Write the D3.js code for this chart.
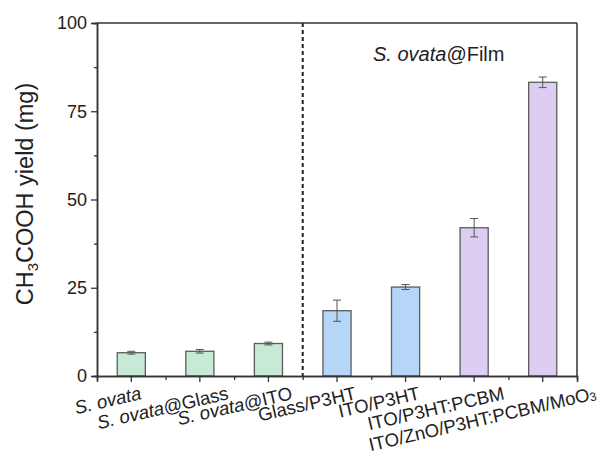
<!DOCTYPE html>
<html>
<head>
<meta charset="utf-8">
<script src="https://cdn.jsdelivr.net/npm/d3@7"></script>
<style>
  body { margin: 0; background: #fff; }
  svg { font-family: "Liberation Sans", Arial, sans-serif; }
</style>
</head>
<body>
<div id="chart"></div>
<script>
// values
const categories = ['S. ovata', 'S. ovata@Glass', 'S. ovata@ITO', 'Glass/P3HT', 'ITO/P3HT', 'ITO/P3HT:PCBM', 'ITO/ZnO/P3HT:PCBM/MoO3'];
const yields = [6.6, 7.0, 9.2, 18.5, 25.2, 42.0, 83.2];
const errors = [0.4, 0.5, 0.4, 3.0, 0.7, 2.6, 1.5];
const groups = ['plain', 'plain', 'plain', 'blue', 'blue', 'film', 'film'];
const yTicks = [0, 25, 50, 75, 100];
const yMinor = [12.5, 37.5, 62.5, 87.5];

const colors = {plain: '#c6ead5', blue: '#b5d6f7', film: '#ddcdf2'};

const width = 607, height = 456;
const margin = {top: 23, right: 30, bottom: 80, left: 97};
const x0 = margin.left, x1 = width - margin.right;
const y0 = height - margin.bottom, y1 = margin.top;

const svg = d3.select('#chart').append('svg')
	.attr('width', width)
	.attr('height', height);

const xScale = d3.scaleBand()
	.domain(categories)
	.range([x0, x1])
	.paddingInner(0.59)
	.paddingOuter(0.295);

const xEdge = d3.scaleLinear()
	.domain([0, categories.length])
	.range([x0, x1]);

const yScale = d3.scaleLinear()
	.domain([0, 100])
	.range([y0, y1]);

const cx = c => xScale(c) + xScale.bandwidth() / 2;

// bars
svg.selectAll('rect.bar')
	.data(categories)
	.enter().append('rect')
	.attr('class', 'bar')
	.attr('x', c => xScale(c))
	.attr('width', xScale.bandwidth())
	.attr('y', (c, i) => yScale(yields[i]))
	.attr('height', (c, i) => yScale(0) - yScale(yields[i]))
	.style('fill', (c, i) => colors[groups[i]])
	.style('stroke', '#5c5c5c')
	.style('stroke-width', 1.3);

// error bars
const err = svg.selectAll('g.err')
	.data(categories)
	.enter().append('g')
	.attr('class', 'err')
	.style('stroke', '#555')
	.style('stroke-width', 1);
err.append('line')
	.attr('x1', c => cx(c)).attr('x2', c => cx(c))
	.attr('y1', (c, i) => yScale(yields[i] + errors[i]))
	.attr('y2', (c, i) => yScale(yields[i] - errors[i]));
[1, -1].forEach(s => {
	err.append('line')
		.attr('x1', c => cx(c) - 4).attr('x2', c => cx(c) + 4)
		.attr('y1', (c, i) => yScale(yields[i] + s * errors[i]))
		.attr('y2', (c, i) => yScale(yields[i] + s * errors[i]));
});

// dashed separator
svg.append('line')
	.attr('x1', xEdge(3)).attr('x2', xEdge(3))
	.attr('y1', y1).attr('y2', y0)
	.style('stroke', '#222')
	.style('stroke-width', 2)
	.style('stroke-dasharray', '4,3');

// frame
svg.append('line').attr('x1', x0).attr('x2', x1).attr('y1', y1).attr('y2', y1)
	.style('stroke', '#333').style('stroke-width', 1.5);
svg.append('line').attr('x1', x1).attr('x2', x1).attr('y1', y1).attr('y2', y0)
	.style('stroke', '#333').style('stroke-width', 1.5);

// y axis
const yAxis = svg.append('g')
	.attr('transform', `translate(${x0},0)`)
	.call(d3.axisLeft(yScale).tickValues(yTicks).tickSize(6).tickPadding(4));
svg.append('g')
	.attr('transform', `translate(${x0},0)`)
	.call(d3.axisLeft(yScale).tickValues(yMinor).tickSize(3).tickFormat(''));

// x axis
svg.append('g')
	.attr('transform', `translate(0,${y0})`)
	.call(d3.axisBottom(xEdge).tickValues(d3.range(1, categories.length)).tickSize(4).tickFormat(''));
svg.append('g')
	.attr('transform', `translate(0,${y0})`)
	.call(d3.axisBottom(xScale).tickSize(6).tickFormat(''));

svg.selectAll('.domain').style('stroke', '#333').style('stroke-width', 1.5);
svg.selectAll('.tick line').style('stroke', '#333').style('stroke-width', 1.3);
yAxis.selectAll('text')
	.style('font-size', '18px')
	.style('fill', '#222')
	.style('font-family', '"Liberation Sans", Arial, sans-serif');

// rotated category labels
const addLabel = (sel, name) => {
	let rest = name;
	if (name.startsWith('S. ovata')) {
		sel.append('tspan').style('font-style', 'italic').text('S. ovata');
		rest = name.slice(8);
	}
	if (rest.endsWith('MoO3')) {
		sel.append('tspan').text(rest.slice(0, -1));
		sel.append('tspan').style('font-size', '12px').attr('dy', 1).text('3');
	} else if (rest) {
		sel.append('tspan').text(rest);
	}
};

categories.forEach(c => {
	const t = svg.append('text')
		.style('font-size', '18.5px')
		.style('fill', '#222')
		.attr('text-anchor', 'end');
	addLabel(t, c);
	const len = t.node().getComputedTextLength();
	const ex = Math.min(cx(c) + 0.28 * len - 8, width - 10);
	t.attr('transform', `translate(${ex},399) rotate(-13)`);
});

// y label
const yl = svg.append('text')
	.attr('transform', 'translate(33,194) rotate(-90)')
	.attr('text-anchor', 'middle')
	.style('font-size', '23.5px')
	.style('fill', '#222');
yl.append('tspan').text('CH');
yl.append('tspan').style('font-size', '15px').attr('dy', 5).text('3');
yl.append('tspan').attr('dy', -5).text('COOH yield (mg)');

// group caption
const cap = svg.append('text')
	.attr('x', 373).attr('y', 61)
	.style('font-size', '20px')
	.style('fill', '#222');
cap.append('tspan').style('font-style', 'italic').text('S. ovata');
cap.append('tspan').text('@Film');
</script>
</body>
</html>
